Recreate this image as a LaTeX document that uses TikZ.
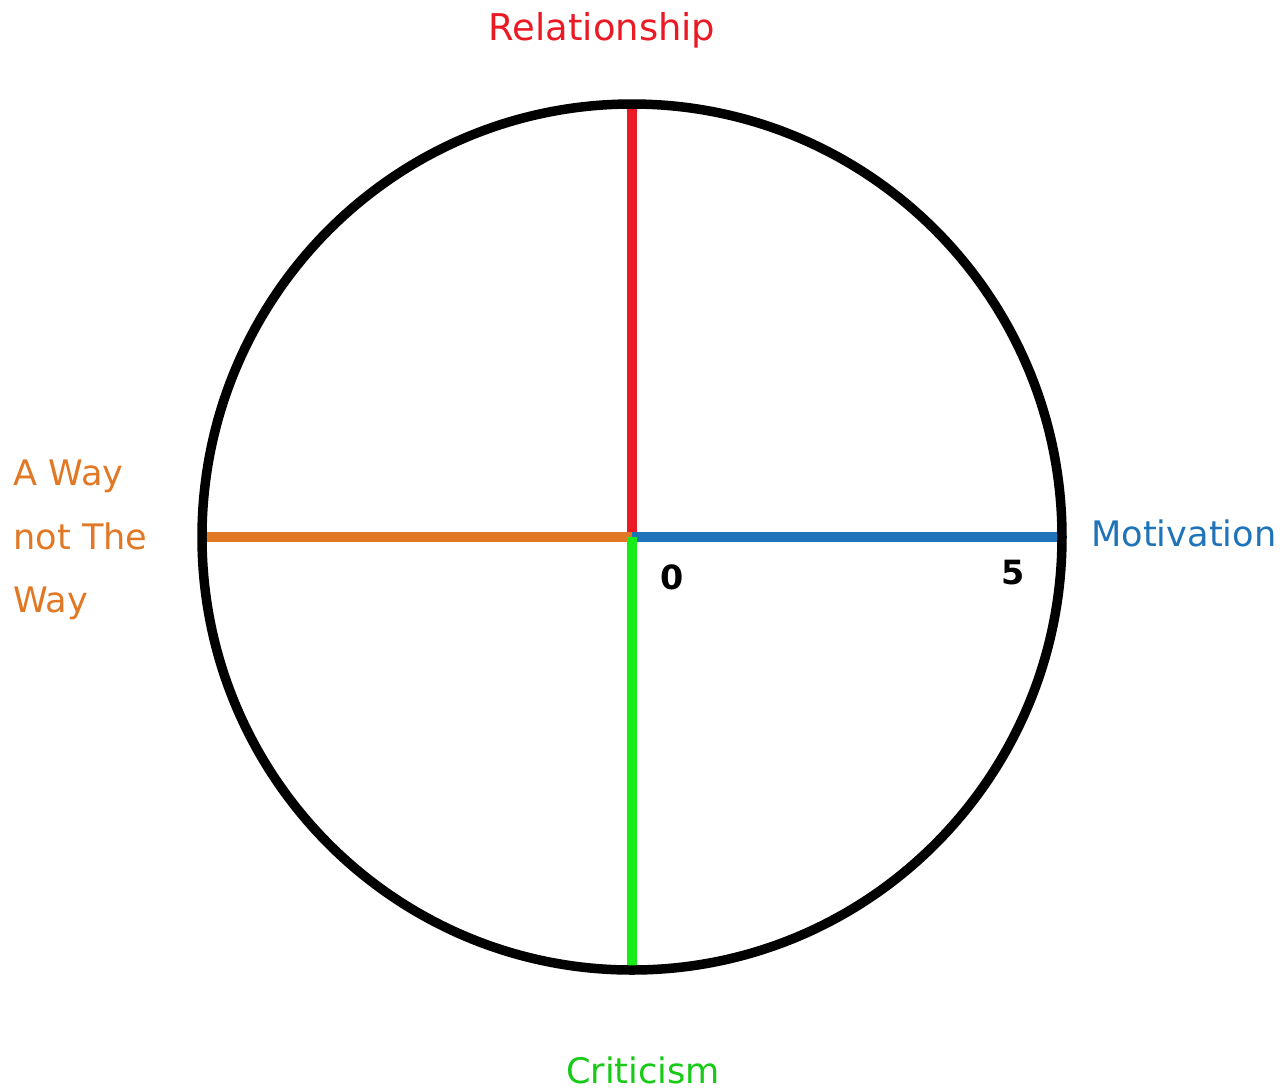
\documentclass[tikz,border=0pt]{standalone}
\usepackage{fontspec}
\setmainfont{DejaVu Sans}
\usepackage{tikz}
\definecolor{relred}{rgb}{0.92,0.10,0.14}
\definecolor{wayorange}{rgb}{0.88,0.47,0.15}
\definecolor{motblue}{rgb}{0.12,0.45,0.72}
\definecolor{critgreen}{rgb}{0.10,0.93,0.10}

\begin{document}
\begin{tikzpicture}[x=0.02cm,y=-0.02cm,l/.style={line width=5.2pt},t/.style={font=\fontsize{20}{24}\selectfont,inner sep=0pt},n/.style={font=\bfseries\fontsize{19}{22}\selectfont,inner sep=0pt}]
\useasboundingbox (0,0) rectangle (1288,1090);
\coordinate (o) at (632,537);
\coordinate (top) at (632,104);
\coordinate (bot) at (632,968);
\coordinate (lft) at (199,537);
\coordinate (rgt) at (1058,537);
\draw[l,relred] (top)--(o);
\draw[l,wayorange] (lft)--(o);
\draw[l,motblue] (o)--(rgt);
\draw[l,critgreen] (o)--(bot);
\draw[line width=5.4pt] (o) ellipse (430 and 433);
\node[t,text=relred,font=\fontsize{21}{24}\selectfont] (rel) at (602,30) {Relationship};
\node[t,text=motblue,anchor=west] (mot) at (1091,533) {Motivation};
\node[t,text=wayorange,anchor=west,align=left,font=\fontsize{20}{36}\selectfont] (way) at (13,540) {A Way\\not The\\Way};
\node[t,text=critgreen!85!black] (crit) at (643,1070) {Criticism};
\node[n] (zero) at (672,577) {0};
\node[n] (five) at (1013,573) {5};
\end{tikzpicture}
\end{document}
